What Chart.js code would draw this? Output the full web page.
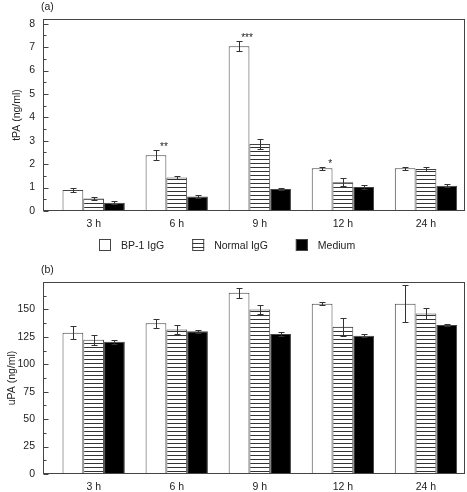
<!DOCTYPE html>
<html>
<head>
<meta charset="utf-8">
<script src="https://cdn.jsdelivr.net/npm/chart.js@4/dist/chart.umd.min.js"></script>
<style>
html, body { margin: 0; padding: 0; background: #fff; }
#wrapA { position: relative; width: 467px; height: 256px; }
#wrapB { position: relative; width: 467px; height: 236px; }
</style>
</head>
<body>
<div id="wrapA"><canvas id="chartA"></canvas></div>
<div id="wrapB"><canvas id="chartB"></canvas></div>
<script>
// categories and series
const categories = ['3 h', '6 h', '9 h', '12 h', '24 h'];
const seriesNames = ['BP-1 IgG', 'Normal IgG', 'Medium'];

// (a) tPA (ng/ml), mean and error
const tpaBP1 = [0.90, 2.38, 7.04, 1.83, 1.83];
const tpaNormal = [0.53, 1.43, 2.86, 1.23, 1.79];
const tpaMedium = [0.35, 0.62, 0.94, 1.02, 1.08];
const tpaBP1Err = [0.08, 0.21, 0.21, 0.07, 0.07];
const tpaNormalErr = [0.07, 0.07, 0.20, 0.17, 0.09];
const tpaMediumErr = [0.07, 0.08, 0.06, 0.07, 0.07];
const tpaStars = ['', '**', '***', '*', ''];
const tpaTicks = [0, 1, 2, 3, 4, 5, 6, 7, 8];

// (b) uPA (ng/ml), mean and error
const upaBP1 = [128.7, 137.5, 165.2, 155.2, 155.2];
const upaNormal = [122.3, 131.7, 150.0, 134.2, 146.3];
const upaMedium = [120.5, 130.2, 127.5, 126.0, 135.7];
const upaBP1Err = [6.0, 4.0, 4.6, 1.2, 16.7];
const upaNormalErr = [4.3, 4.3, 4.0, 8.0, 4.7];
const upaMediumErr = [1.8, 1.5, 1.5, 1.5, 1.0];
const upaStars = ['', '', '', '', ''];
const upaTicks = [0, 25, 50, 75, 100, 125, 150];

const FONT = '"Liberation Sans", Arial, Helvetica, sans-serif';
const INK = '#222';
const EDGE = '#444';
// x range of the index axis so the groups sit where they do in the figure
const X_MIN = -0.61, X_MAX = 4.47;

function hatch() {
    const c = document.createElement('canvas');
    c.width = 8; c.height = 4;
    const g = c.getContext('2d');
    g.fillStyle = '#fff';
    g.fillRect(0, 0, 8, 4);
    g.fillStyle = '#333';
    g.fillRect(0, 3, 8, 1);
    return g.createPattern(c, 'repeat');
}
const HATCH = hatch();
const fills = ['#fff', HATCH, '#000'];

function makeDatasets(series) {
    return series.map((vals, k) => ({
        label: seriesNames[k],
        data: vals.map((v, i) => ({ x: i, y: v })),
        backgroundColor: fills[k],
        borderColor: EDGE,
        borderWidth: 1,
        borderSkipped: 'bottom'
    }));
}

// frame, inward ticks, error bars, stars, panel letter, (optional) legend
function decor(opts) {
    return {
        id: 'decor',
        afterDatasetsDraw(chart) {
            const ctx = chart.ctx;
            const y = chart.scales.y;
            ctx.save();
            ctx.strokeStyle = '#333';
            ctx.lineWidth = 1;
            opts.errors.forEach((errs, k) => {
                const meta = chart.getDatasetMeta(k);
                meta.data.forEach((bar, i) => {
                    const v = opts.series[k][i];
                    const e = errs[i];
                    const x = Math.round(bar.x) + 0.5;
                    const y1 = Math.round(y.getPixelForValue(v + e)) + 0.5;
                    const y2 = Math.round(y.getPixelForValue(v - e)) + 0.5;
                    ctx.beginPath();
                    ctx.moveTo(x, y1); ctx.lineTo(x, y2);
                    ctx.moveTo(x - 3, y1); ctx.lineTo(x + 3, y1);
                    ctx.moveTo(x - 3, y2); ctx.lineTo(x + 3, y2);
                    ctx.stroke();
                    if (k === 0 && opts.stars[i]) {
                        ctx.fillStyle = INK;
                        ctx.font = '10px ' + FONT;
                        ctx.textAlign = 'center';
                        ctx.textBaseline = 'alphabetic';
                        ctx.fillText(opts.stars[i], bar.x + 8, y1 - 1);
                    }
                });
            });
            ctx.restore();
        },
        afterDraw(chart) {
            const ctx = chart.ctx;
            const a = chart.chartArea;
            const y = chart.scales.y;
            ctx.save();
            ctx.strokeStyle = EDGE;
            ctx.lineWidth = 1;
            const L = Math.round(a.left) + 0.5, T = Math.round(a.top) + 0.5;
            const R = Math.round(a.right) - 0.5, B = Math.round(a.bottom) - 0.5;
            ctx.strokeRect(L, T, R - L, B - T);
            ctx.beginPath();
            for (let v = 0; v <= y.max + 1e-9; v += opts.minor) {
                const py = Math.round(y.getPixelForValue(v)) + 0.5;
                const major = opts.ticks.some(t => Math.abs(t - v) < 1e-9);
                ctx.moveTo(L, py);
                ctx.lineTo(L + (major ? 5 : 3), py);
            }
            ctx.stroke();
            ctx.fillStyle = INK;
            ctx.font = '10.5px ' + FONT;
            ctx.textAlign = 'left';
            ctx.textBaseline = 'middle';
            ctx.fillText(opts.letter, a.left - 2, opts.letterY);
            if (opts.legend) {
                const ly = opts.legend.y, box = 12, gap = 10, space = 28;
                const widths = seriesNames.map(s => ctx.measureText(s).width);
                const total = widths.reduce((s, w) => s + box + gap + w, 0) + space * (widths.length - 1);
                let x = Math.round(opts.legend.cx - total / 2);
                seriesNames.forEach((s, k) => {
                    ctx.fillStyle = fills[k];
                    ctx.fillRect(x, ly - box / 2, box, box);
                    ctx.strokeStyle = EDGE;
                    ctx.strokeRect(x + 0.5, ly - box / 2 + 0.5, box - 1, box - 1);
                    ctx.fillStyle = INK;
                    ctx.fillText(s, x + box + gap, ly + 1);
                    x += box + gap + widths[k] + space;
                });
            }
            ctx.restore();
        }
    };
}

function makeOptions(yMax, ticks, title, titlePad, padTop, padBottom, xHeight) {
    return {
        responsive: true,
        maintainAspectRatio: false,
        animation: false,
        layout: { padding: { top: padTop, right: 2, left: 0, bottom: padBottom } },
        datasets: { bar: { categoryPercentage: 0.75, barPercentage: 1.0 } },
        plugins: { legend: { display: false }, tooltip: { enabled: false } },
        scales: {
            x: {
                type: 'linear',
                offset: false,
                min: X_MIN,
                max: X_MAX,
                grid: { display: false, drawTicks: false },
                border: { display: false },
                afterBuildTicks: s => { s.ticks = categories.map((c, i) => ({ value: i })); },
                afterFit: s => { s.height = xHeight; },
                ticks: {
                    callback: v => categories[v] ?? '',
                    autoSkip: false, maxRotation: 0, padding: 7,
                    font: { family: FONT, size: 10.5 }, color: INK
                }
            },
            y: {
                min: 0,
                max: yMax,
                grid: { display: false, drawTicks: false },
                border: { display: false },
                afterBuildTicks: s => { s.ticks = ticks.map(v => ({ value: v })); },
                afterFit: s => { s.width = 43; },
                ticks: { padding: 8, font: { family: FONT, size: 10.5 }, color: INK },
                title: {
                    display: true, text: title, color: INK,
                    font: { family: FONT, size: 10.5 },
                    padding: { top: titlePad, bottom: 0 }
                }
            }
        }
    };
}

new Chart(document.getElementById('chartA'), {
    type: 'bar',
    data: { datasets: makeDatasets([tpaBP1, tpaNormal, tpaMedium]) },
    options: makeOptions(8.2, tpaTicks, 'tPA (ng/ml)', 11, 19, 25, 20),
    plugins: [decor({
        series: [tpaBP1, tpaNormal, tpaMedium],
        errors: [tpaBP1Err, tpaNormalErr, tpaMediumErr],
        stars: tpaStars, ticks: tpaTicks, minor: 0.5,
        letter: '(a)', letterY: 7,
        legend: { y: 245, cx: 227 }
    })]
});

new Chart(document.getElementById('chartB'), {
    type: 'bar',
    data: { datasets: makeDatasets([upaBP1, upaNormal, upaMedium]) },
    options: makeOptions(175, upaTicks, 'uPA (ng/ml)', 6, 26, 0, 18),
    plugins: [decor({
        series: [upaBP1, upaNormal, upaMedium],
        errors: [upaBP1Err, upaNormalErr, upaMediumErr],
        stars: upaStars, ticks: upaTicks, minor: 12.5,
        letter: '(b)', letterY: 14
    })]
});
</script>
</body>
</html>
